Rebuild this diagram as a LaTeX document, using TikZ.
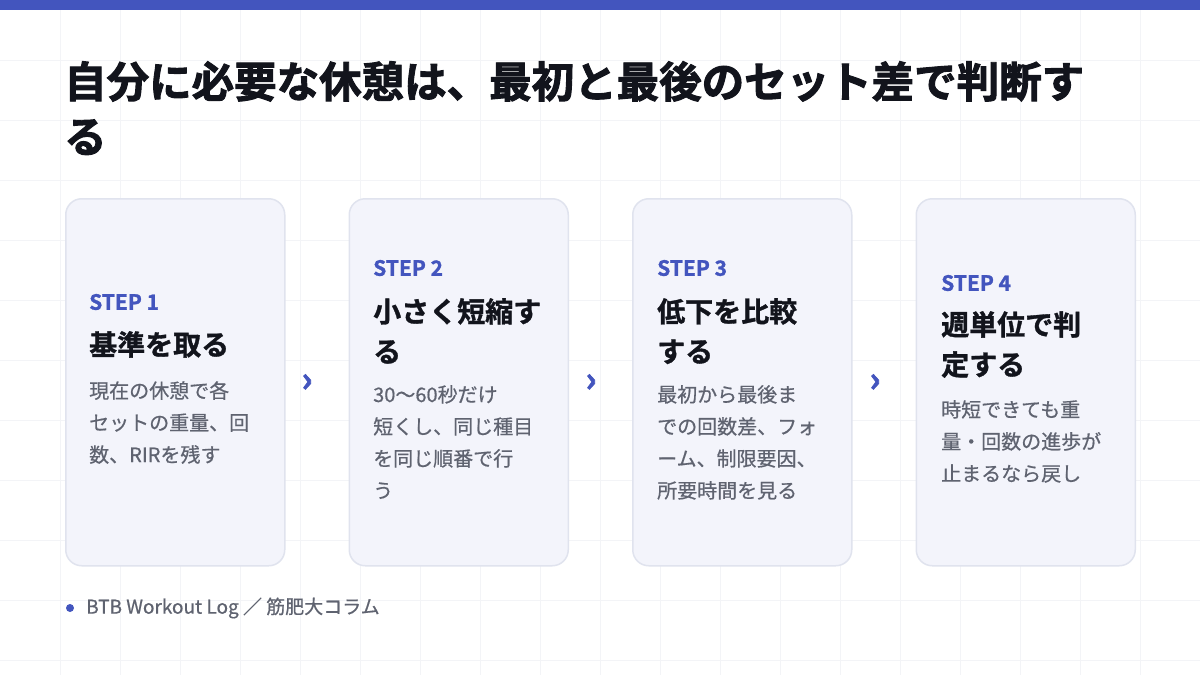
\documentclass[tikz,border=0pt]{standalone}
\usepackage{fontspec}
\newfontfamily\jp[FakeBold=0.6]{Noto Sans CJK JP}
\newfontfamily\jpb[FakeBold=2.2]{Noto Sans CJK JP Bold}
\newfontfamily\jpbb[FakeBold=1.2]{Noto Sans CJK JP Bold}
\definecolor{accent}{HTML}{4355BE}
\definecolor{cardfill}{HTML}{F3F4FB}
\definecolor{cardline}{HTML}{E0E3EE}
\definecolor{ink}{HTML}{12141C}
\definecolor{body}{HTML}{5F6370}
\definecolor{gridc}{HTML}{F3F4F7}
\tikzset{
 card/.style={draw=cardline,line width=1.5pt,fill=cardfill,rounded corners=16pt,minimum width=219pt,minimum height=367pt,anchor=north west,inner sep=0},
 steplbl/.style={anchor=west,text=accent,font=\jpbb\fontsize{21}{24}\selectfont,inner sep=0},
 ttl/.style={anchor=north west,text=ink,font=\jpbb\fontsize{28}{40}\selectfont,align=left,inner sep=0},
 bd/.style={anchor=north west,text=body,font=\jp\fontsize{20}{32}\selectfont,align=left,inner sep=0},
 chev/.style={text=accent,font=\jpb\fontsize{34}{34}\selectfont,inner sep=0},
}
\begin{document}
\begin{tikzpicture}[x=1pt,y=-1pt]
\useasboundingbox (0,0) rectangle (1200,675);
\fill[white] (0,0) rectangle (1200,675);
\foreach \i in {60,120,...,1180} \draw[gridc,line width=0.8pt] (\i,0) -- (\i,675);
\foreach \j in {60,120,...,660} \draw[gridc,line width=0.8pt] (0,\j) -- (1200,\j);
\fill[accent] (0,0) rectangle (1200,10);
\node[anchor=north west,inner sep=0,text=ink,font=\jpb\fontsize{42.5}{55}\selectfont,align=left] (title) at (64,61) {自分に必要な休憩は、最初と最後のセット差で判断す\\る};
\foreach \k/\x in {1/65,2/348.5,3/632,4/915.5} \node[card] (c\k) at (\x,198) {};
\node[steplbl] (s1) at (89,302) {STEP 1};
\node[ttl] (t1) at (89,331) {基準を取る};
\node[bd] (b1) at (89,381) {現在の休憩で各\\セットの重量、回\\数、RIRを残す};
\node[steplbl] (s2) at (373,268) {STEP 2};
\node[ttl] (t2) at (373,298) {小さく短縮す\\る};
\node[bd] (b2) at (373,385) {30〜60秒だけ\\短くし、同じ種目\\を同じ順番で行\\う};
\node[steplbl] (s3) at (657,268) {STEP 3};
\node[ttl] (t3) at (657,298) {低下を比較\\する};
\node[bd] (b3) at (657,385) {最初から最後ま\\での回数差、フォ\\ーム、制限要因、\\所要時間を見る};
\node[steplbl] (s4) at (941,283) {STEP 4};
\node[ttl] (t4) at (941,311) {週単位で判\\定する};
\node[bd] (b4) at (941,400) {時短できても重\\量・回数の進歩が\\止まるなら戻し};
\node[chev] (h1) at (307,383) {›};
\node[chev] (h2) at (591,383) {›};
\node[chev] (h3) at (875,383) {›};
\fill[accent] (70,608) circle (4);
\node[anchor=west,inner sep=0,text=body,font=\jp\fontsize{19}{20}\selectfont] (foot) at (86,608) {BTB Workout Log ／ 筋肥大コラム};
\end{tikzpicture}
\end{document}
